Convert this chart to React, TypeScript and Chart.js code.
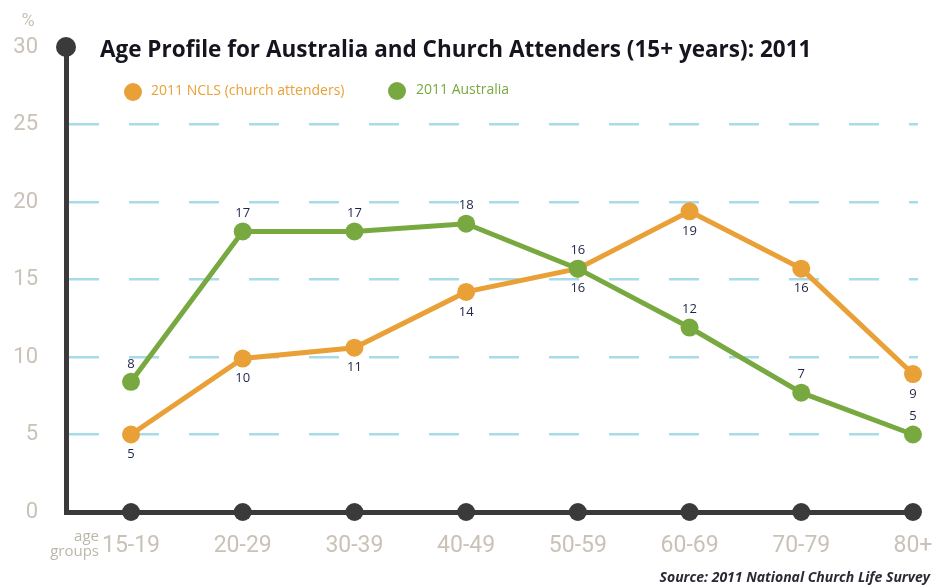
import React, { useEffect, useRef } from "react";
import { Chart, registerables } from "chart.js";

Chart.register(...registerables);

const categories = ["15-19", "20-29", "30-39", "40-49", "50-59", "60-69", "70-79", "80+"];
const nclsValues = [5.0, 9.9, 10.6, 14.2, 15.7, 19.4, 15.7, 8.9];
const ausValues = [8.4, 18.1, 18.1, 18.6, 15.7, 11.9, 7.7, 5.0];
const nclsLabels = ["5", "10", "11", "14", "16", "19", "16", "9"];
const ausLabels = ["8", "17", "17", "18", "16", "12", "7", "5"];
const baselineValues = [0, 0, 0, 0, 0, 0, 0, 0];
const yTicks = [0, 5, 10, 15, 20, 25, 30];

const titleText = "Age Profile for Australia and Church Attenders (15+ years): 2011";
const nclsName = "2011 NCLS (church attenders)";
const ausName = "2011 Australia";
const sourceText = "Source: 2011 National Church Life Survey";

const ORANGE = "#e9a137";
const GREEN = "#78a940";
const DARK = "#3a3a3a";
const GRID = "#a8dbe8";
const TICK = "#c9c2b8";
const LABEL = "#1e2546";
const NARROW = "Roboto, 'Liberation Sans', sans-serif";
const SANS = "'Open Sans', 'Noto Sans', sans-serif";

const decorPlugin = {
  id: "decor",
  afterDatasetsDraw(chart: any) {
    const ctx = chart.ctx;
    const y = chart.scales.y;
    const ca = chart.chartArea;
    ctx.save();
    const defs = [
      { idx: 0, labels: nclsLabels, dy: 20 },
      { idx: 1, labels: ausLabels, dy: -18 },
    ];
    ctx.font = `13px ${SANS}`;
    ctx.fillStyle = LABEL;
    ctx.textAlign = "center";
    ctx.textBaseline = "middle";
    defs.forEach((d) => {
      const meta = chart.getDatasetMeta(d.idx);
      meta.data.forEach((pt: any, i: number) => {
        ctx.fillText(d.labels[i], pt.x, pt.y + d.dy);
      });
    });
    ctx.fillStyle = DARK;
    ctx.beginPath();
    ctx.arc(ca.left, y.getPixelForValue(30), 10, 0, Math.PI * 2);
    ctx.fill();
    ctx.fillStyle = "#15151f";
    ctx.font = `bold 22.5px ${SANS}`;
    ctx.textAlign = "left";
    ctx.fillText(titleText, 100, 51);
    ctx.beginPath();
    ctx.fillStyle = ORANGE;
    ctx.arc(133, 92, 9, 0, Math.PI * 2);
    ctx.fill();
    ctx.font = `14px ${SANS}`;
    ctx.fillText(nclsName, 151, 91);
    ctx.beginPath();
    ctx.fillStyle = GREEN;
    ctx.arc(397, 91, 9, 0, Math.PI * 2);
    ctx.fill();
    ctx.fillText(ausName, 416, 90);
    ctx.fillStyle = TICK;
    ctx.font = `18px ${NARROW}`;
    ctx.textAlign = "center";
    ctx.fillText("%", 28, 21);
    ctx.textAlign = "right";
    ctx.font = `15px ${SANS}`;
    ctx.fillStyle = "#bdb6ab";
    ctx.fillText("age", 99, 537);
    ctx.fillText("groups", 99, 552);
    ctx.font = `italic bold 14px ${SANS}`;
    ctx.fillStyle = "#2a2a35";
    ctx.fillText(sourceText, 930, 578);
    ctx.restore();
  },
};

export default function App() {
  const ref = useRef<HTMLCanvasElement | null>(null);
  useEffect(() => {
    document.body.style.margin = "0";
    const canvas = ref.current;
    if (!canvas) return;
    const chart = new Chart(canvas, {
      type: "line",
      data: {
        datasets: [
          {
            label: nclsName,
            data: nclsValues.map((v, i) => ({ x: i, y: v })),
            borderColor: ORANGE,
            backgroundColor: ORANGE,
            borderWidth: 5,
            pointRadius: 9,
            pointBorderWidth: 0,
            tension: 0,
            clip: false,
            order: 2,
          },
          {
            label: ausName,
            data: ausValues.map((v, i) => ({ x: i, y: v })),
            borderColor: GREEN,
            backgroundColor: GREEN,
            borderWidth: 5,
            pointRadius: 9,
            pointBorderWidth: 0,
            tension: 0,
            clip: false,
            order: 1,
          },
          {
            label: "axis",
            data: baselineValues.map((v, i) => ({ x: i, y: v })),
            borderColor: DARK,
            backgroundColor: DARK,
            showLine: false,
            pointRadius: 9,
            pointBorderWidth: 0,
            clip: false,
            order: 0,
          },
        ],
      },
      options: {
        animation: false,
        responsive: false,
        layout: { padding: { left: 0, top: 47, right: 25, bottom: 0 } },
        plugins: { legend: { display: false }, tooltip: { enabled: false }, title: { display: false } },
        scales: {
          x: {
            type: "linear",
            min: -0.582,
            max: 7.045,
            afterBuildTicks: (s: any) => {
              s.ticks = categories.map((_, i) => ({ value: i }));
            },
            afterFit: (s: any) => {
              s.height = 75;
              s.paddingLeft = 0;
              s.paddingRight = 0;
            },
            grid: { display: false, drawTicks: false },
            border: { display: true, color: DARK, width: 5 },
            ticks: {
              padding: 20,
              color: TICK,
              font: { family: NARROW, size: 23 },
              callback: (v: any) => categories[v] ?? "",
              autoSkip: false,
              maxRotation: 0,
            },
          },
          y: {
            min: 0,
            max: 30,
            afterBuildTicks: (s: any) => {
              s.ticks = yTicks.map((v) => ({ value: v }));
            },
            afterFit: (s: any) => {
              s.width = 66;
              s.paddingTop = 0;
              s.paddingBottom = 0;
            },
            grid: {
              drawTicks: false,
              lineWidth: 2.5,
              color: (c: any) => (c.tick && (c.tick.value === 0 || c.tick.value === 30) ? "rgba(0,0,0,0)" : GRID),
            },
            border: { display: true, color: DARK, width: 5, dash: [30, 30] },
            ticks: {
              padding: 28,
              color: TICK,
              font: { family: NARROW, size: 22 },
            },
          },
        },
      },
      plugins: [decorPlugin],
    } as any);
    return () => chart.destroy();
  }, []);
  return <canvas ref={ref} width={943} height={587} style={{ display: "block", width: 943, height: 587 }} />;
}
